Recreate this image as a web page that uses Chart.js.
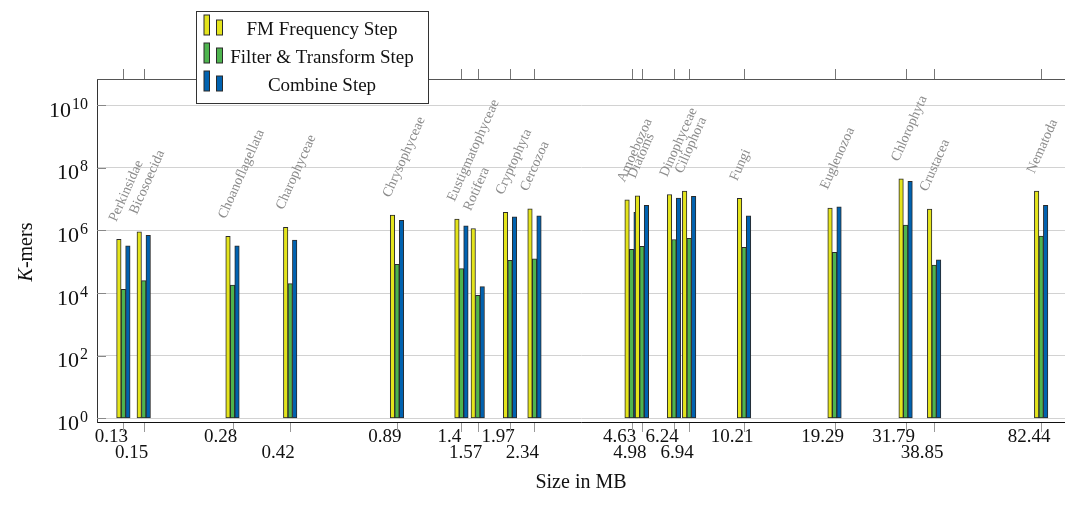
<!DOCTYPE html>
<html>
<head>
<meta charset="utf-8">
<script src="https://cdn.jsdelivr.net/npm/chart.js@4.4.1/dist/chart.umd.min.js"></script>
<style>
  html, body { margin: 0; padding: 0; background: #fff; }
  canvas { display: block; }
</style>
</head>
<body>
<canvas id="kmerChart" width="1065" height="518"></canvas>
<script>
const categories = ['Perkinsidae', 'Bicosoecida', 'Choanoflagellata', 'Charophyceae', 'Chrysophyceae',
  'Eustigmatophyceae', 'Rotifera', 'Cryptophyta', 'Cercozoa', 'Amoebozoa', 'Diatoms', 'Dinophyceae',
  'Ciliophora', 'Fungi', 'Euglenozoa', 'Chlorophyta', 'Crustacea', 'Nematoda'];
const sizesMB = [0.13, 0.15, 0.28, 0.42, 0.89, 1.4, 1.57, 1.97, 2.34, 4.63, 4.98, 6.24, 6.94, 10.21, 19.29, 31.79, 38.85, 82.44];
const tickLabels = ['0.13', '0.15', '0.28', '0.42', '0.89', '1.4', '1.57', '1.97', '2.34', '4.63', '4.98', '6.24', '6.94', '10.21', '19.29', '31.79', '38.85', '82.44'];
const lowerRowLabels = ['0.15', '0.42', '1.57', '2.34', '4.98', '6.94', '38.85'];

const fmFrequency     = [5.2e5, 8.9e5, 6.5e5, 1.26e6, 3.1e6, 2.3e6, 1.15e6, 3.8e6, 4.9e6, 9.5e6, 1.26e7, 1.4e7, 1.8e7, 1.05e7, 5.1e6, 4.4e7, 4.8e6, 1.8e7];
const filterTransform = [1.3e4, 2.5e4, 1.8e4, 2.0e4, 8.3e4, 6.0e4, 8.5e3, 1.1e5, 1.23e5, 2.5e5, 3.1e5, 5.1e5, 5.6e5, 2.9e5, 2.0e5, 1.48e6, 7.8e4, 6.6e5];
const combine         = [3.2e5, 6.9e5, 3.2e5, 4.9e5, 2.1e6, 1.4e6, 1.6e4, 2.7e6, 2.9e6, 3.8e6, 6.3e6, 1.07e7, 1.23e7, 2.9e6, 5.6e6, 3.7e7, 1.15e5, 6.3e6];

const yTickExponents = [0, 2, 4, 6, 8, 10];
const seriesNames = ['FM Frequency Step', 'Filter & Transform Step', 'Combine Step'];
const seriesColors = ['rgb(228,228,28)', 'rgb(78,180,78)', 'rgb(0,98,176)'];

const serif = '"Liberation Serif", "DejaVu Serif", serif';

function toPoints(values) {
  return sizesMB.map((x, i) => ({ x: x, y: values[i] }));
}

function makeDataset(label, values, color) {
  return {
    label: label,
    data: toPoints(values),
    backgroundColor: color,
    borderColor: '#2a2a2a',
    borderWidth: 1,
    borderSkipped: false,
    barThickness: 4.5,
    base: 1
  };
}

// rotated group names, tick marks, y labels, titles and the boxed legend
const decorations = {
  id: 'decorations',
  afterDatasetsDraw(chart) {
    const { ctx, scales: { x, y } } = chart;
    ctx.save();
    ctx.fillStyle = '#8c8c8c';
    ctx.font = '14px ' + serif;
    ctx.textAlign = 'left';
    ctx.textBaseline = 'alphabetic';
    categories.forEach((name, i) => {
      const top = Math.max(fmFrequency[i], filterTransform[i], combine[i]);
      const px = x.getPixelForValue(sizesMB[i]) - 7;
      const py = y.getPixelForValue(top) - 17;
      ctx.save();
      ctx.translate(px, py);
      ctx.rotate(-66 * Math.PI / 180);
      ctx.fillText(name, 0, 0);
      ctx.restore();
    });
    ctx.restore();
  },
  afterDraw(chart) {
    const { ctx, chartArea: area, scales: { x, y } } = chart;
    ctx.save();

    // top frame line
    ctx.strokeStyle = '#555';
    ctx.lineWidth = 1;
    ctx.beginPath();
    ctx.moveTo(area.left, area.top + 0.5);
    ctx.lineTo(area.right, area.top + 0.5);
    ctx.stroke();

    // x tick marks above the top line and below the bottom axis
    sizesMB.forEach(v => {
      const px = Math.round(x.getPixelForValue(v)) + 0.5;
      ctx.strokeStyle = '#777';
      ctx.beginPath();
      ctx.moveTo(px, area.top - 10);
      ctx.lineTo(px, area.top);
      ctx.stroke();
      ctx.strokeStyle = '#999';
      ctx.beginPath();
      ctx.moveTo(px, area.bottom + 1);
      ctx.lineTo(px, area.bottom + 10);
      ctx.stroke();
    });

    // y ticks: inner stubs and power-of-ten labels
    yTickExponents.forEach(e => {
      const py = y.getPixelForValue(Math.pow(10, e));
      ctx.strokeStyle = '#888';
      ctx.beginPath();
      ctx.moveTo(area.left, Math.round(py) + 0.5);
      ctx.lineTo(area.left + 9, Math.round(py) + 0.5);
      ctx.stroke();

      ctx.fillStyle = '#111';
      ctx.textBaseline = 'alphabetic';
      ctx.textAlign = 'right';
      ctx.font = '16px ' + serif;
      const exp = String(e);
      const expW = ctx.measureText(exp).width;
      ctx.fillText(exp, 88, py + 3.5);
      ctx.font = '22px ' + serif;
      ctx.fillText('10', 88 - expW - 1, py + 11.5);
    });

    // axis titles
    ctx.fillStyle = '#111';
    ctx.textAlign = 'center';
    ctx.textBaseline = 'middle';
    ctx.font = '20px ' + serif;
    ctx.fillText('Size in MB', (area.left + area.right) / 2, 483);

    ctx.save();
    ctx.translate(27, 252);
    ctx.rotate(-Math.PI / 2);
    ctx.textAlign = 'left';
    ctx.font = 'italic 20px ' + serif;
    const kW = ctx.measureText('K').width;
    ctx.font = '20px ' + serif;
    const restW = ctx.measureText('-mers').width;
    const start = -(kW + restW) / 2;
    ctx.font = 'italic 20px ' + serif;
    ctx.fillText('K', start, 0);
    ctx.font = '20px ' + serif;
    ctx.fillText('-mers', start + kW, 0);
    ctx.restore();

    // legend box
    ctx.fillStyle = '#fff';
    ctx.fillRect(196, 11, 232, 92);
    ctx.strokeStyle = '#333';
    ctx.strokeRect(196.5, 11.5, 232, 92);
    const baselines = [35, 63, 91];
    seriesNames.forEach((name, i) => {
      const b = baselines[i];
      ctx.fillStyle = seriesColors[i];
      ctx.strokeStyle = '#2a2a2a';
      ctx.fillRect(204, b - 20, 5.5, 20);
      ctx.strokeRect(204, b - 20, 5.5, 20);
      ctx.fillRect(216.5, b - 15, 6, 15);
      ctx.strokeRect(216.5, b - 15, 6, 15);
      ctx.fillStyle = '#111';
      ctx.font = '19px ' + serif;
      ctx.textAlign = 'center';
      ctx.textBaseline = 'alphabetic';
      ctx.fillText(name, 322, b);
    });

    ctx.restore();
  }
};

new Chart(document.getElementById('kmerChart'), {
  type: 'bar',
  data: {
    datasets: [
      makeDataset(seriesNames[0], fmFrequency, seriesColors[0]),
      makeDataset(seriesNames[1], filterTransform, seriesColors[1]),
      makeDataset(seriesNames[2], combine, seriesColors[2])
    ]
  },
  options: {
    responsive: false,
    animation: false,
    devicePixelRatio: 1,
    layout: { padding: { top: 79, left: 0, right: 0, bottom: 0 } },
    plugins: {
      legend: { display: false },
      tooltip: { enabled: false }
    },
    scales: {
      x: {
        type: 'logarithmic',
        position: 'bottom',
        min: 0.108,
        max: 97.5,
        offset: false,
        grid: { display: false, offset: false },
        border: { display: true, color: '#111', width: 1 },
        afterBuildTicks: s => { s.ticks = sizesMB.map(v => ({ value: v })); },
        afterFit: s => { s.height = 96; s.paddingLeft = 0; s.paddingRight = 0; },
        ticks: {
          autoSkip: false,
          maxRotation: 0,
          minRotation: 0,
          padding: -1,
          labelOffset: -12,
          color: '#111',
          font: { family: serif, size: 19, lineHeight: '16px' },
          callback: (v, i) => lowerRowLabels.includes(tickLabels[i]) ? ['', tickLabels[i]] : tickLabels[i]
        }
      },
      y: {
        type: 'logarithmic',
        min: 0.762,
        max: 6.8e10,
        grid: { color: '#d2d2d2', lineWidth: 1, drawTicks: false },
        border: { color: '#333', width: 1 },
        ticks: { display: false },
        afterBuildTicks: s => { s.ticks = yTickExponents.map(e => ({ value: Math.pow(10, e) })); },
        afterFit: s => { s.width = 97; s.paddingTop = 0; s.paddingBottom = 0; }
      }
    }
  },
  plugins: [decorations]
});
</script>
</body>
</html>
